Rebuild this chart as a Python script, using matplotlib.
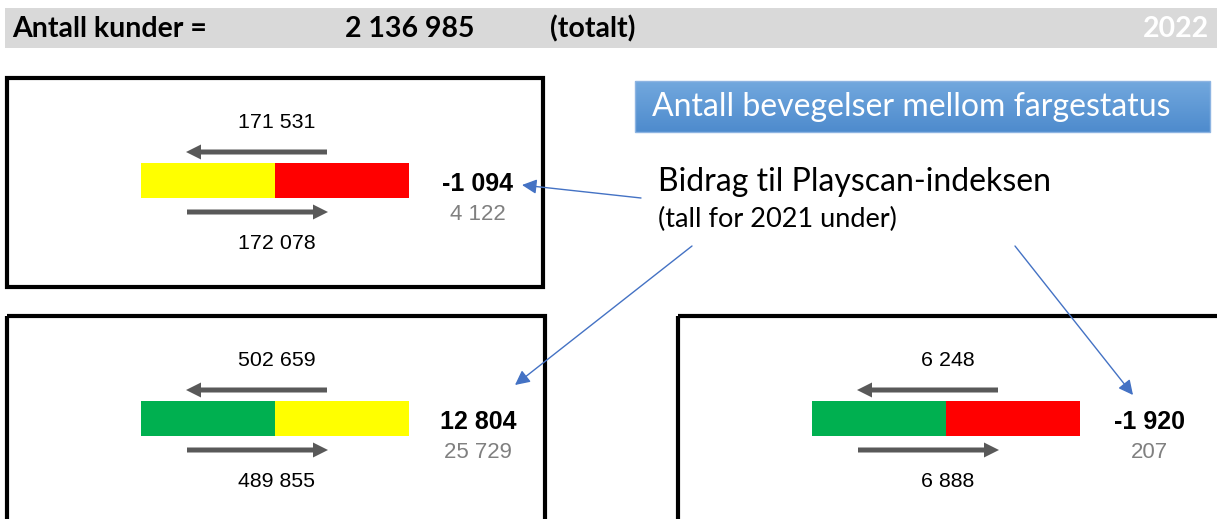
import matplotlib.pyplot as plt
import matplotlib.patches as patches
import numpy as np

# Header values
kunder_total = 2136985
aar = "2022"

# One panel per colour transition (left colour, right colour)
panel_colors = [("#FFFF00", "#FF0000"), ("#00B050", "#FFFF00"), ("#00B050", "#FF0000")]
left_flow = [171531, 502659, 6248]     # movements right -> left (top arrow)
right_flow = [172078, 489855, 6888]    # movements left -> right (bottom arrow)
bidrag = [-1094, 12804, -1920]         # contribution to the index 2022
bidrag_2021 = [4122, 25729, 207]       # same for 2021


def fmt(v):
    return f"{v:,}".replace(",", " ")


# layout in pixels (figure is drawn in pixel coordinates)
box_pos = [(7, 78, 536, 209), (7, 316, 538, 260), (678, 316, 600, 260)]
bar_cy = [180.5, 418.5, 418.5]

fig = plt.figure(figsize=(12.17, 5.19), dpi=100)
ax = fig.add_axes([0, 0, 1, 1])
ax.set_xlim(0, 1217)
ax.set_ylim(519, 0)
ax.axis("off")

num_font = "Liberation Sans"
cal_font = "Lato"
arrow_grey = "#595959"

# header strip
ax.add_patch(patches.Rectangle((5, 8), 1212, 40, color="#D9D9D9", lw=0))
hdr = dict(fontsize=20.5, fontweight="bold", family=cal_font, va="center")
ax.text(12, 29, "Antall kunder =", **hdr)
ax.text(345, 29, fmt(kunder_total), **hdr)
ax.text(550, 29, "(totalt)", **hdr)
ax.text(1209, 29, aar, ha="right", color="white", **hdr)

for i, (bx, by, bw, bh) in enumerate(box_pos):
    ax.add_patch(patches.Rectangle((bx, by), bw, bh, fill=False, ec="black", lw=3))
    cy = bar_cy[i]
    x0 = bx + 134
    c1, c2 = panel_colors[i]
    ax.add_patch(patches.Rectangle((x0, cy - 17.5), 134, 35, color=c1, lw=0))
    ax.add_patch(patches.Rectangle((x0 + 134, cy - 17.5), 134, 35, color=c2, lw=0))

    # grey flow arrows
    ax.add_patch(patches.FancyArrow(bx + 320, cy - 28.5, -141, 0, width=5, head_width=15,
                                    head_length=15, length_includes_head=True,
                                    color=arrow_grey, lw=0))
    ax.add_patch(patches.FancyArrow(bx + 180, cy + 31.5, 141, 0, width=5, head_width=15,
                                    head_length=15, length_includes_head=True,
                                    color=arrow_grey, lw=0))
    ax.text(bx + 270, cy - 58, fmt(left_flow[i]), fontsize=15.4, family=num_font,
            ha="center", va="center")
    ax.text(bx + 270, cy + 63, fmt(right_flow[i]), fontsize=15.4, family=num_font,
            ha="center", va="center")
    ax.text(bx + 471, cy + 3.5, fmt(bidrag[i]), fontsize=18, fontweight="bold",
            family=num_font, ha="center", va="center")
    ax.text(bx + 471, cy + 34, fmt(bidrag_2021[i]), fontsize=16, family=num_font,
            ha="center", va="center", color="#808080")

# blue title box with vertical gradient
grad = np.linspace(0, 1, 64).reshape(-1, 1)
top = np.array([0x72, 0xA8, 0xDE]) / 255
bot = np.array([0x4E, 0x8B, 0xCD]) / 255
img = top + grad[..., None] * (bot - top)
ax.imshow(img, extent=(635, 1210, 132, 81), aspect="auto", zorder=1)
ax.add_patch(patches.Rectangle((635, 81), 575, 51, fill=False, ec="#8DB4E2", lw=1, zorder=2))
ax.text(652, 107, "Antall bevegelser mellom fargestatus", fontsize=23, family=cal_font,
        color="white", va="center", zorder=3)

ax.text(658, 182, "Bidrag til Playscan-indeksen", fontsize=23, family=cal_font, va="center")
ax.text(658, 219, "(tall for 2021 under)", fontsize=19.5, family=cal_font, va="center")

# blue pointer arrows
blue = "#4472C4"
for start, end in [((641, 198), (522, 185)), ((692, 246), (515, 385)), ((1015, 246), (1133, 395))]:
    ax.annotate("", xy=end, xytext=start,
                arrowprops=dict(arrowstyle="-|>", color=blue, lw=1, mutation_scale=22,
                                shrinkA=0, shrinkB=0))

fig.savefig("out.png", dpi=100)
